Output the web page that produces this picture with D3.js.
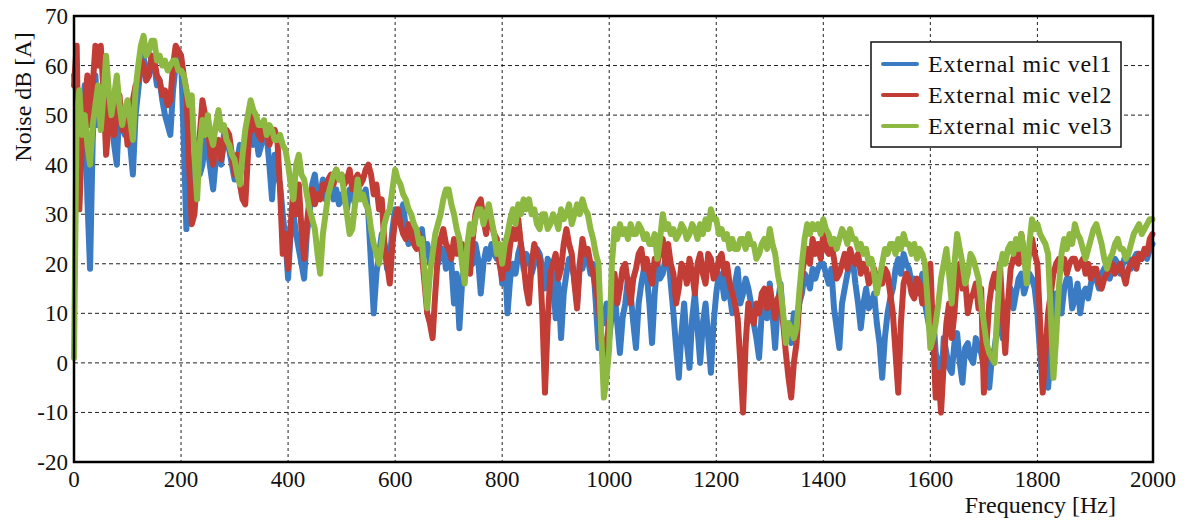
<!DOCTYPE html>
<html>
<head>
<meta charset="utf-8">
<script src="https://cdn.jsdelivr.net/npm/d3@7"></script>
<style>
  body { margin: 0; background: #fff; }
  svg text { font-family: "Liberation Serif", "Times New Roman", serif; fill: #111; }
</style>
</head>
<body>
<div id="chart"></div>
<script>
// frequency grid (Hz), one value every 5 Hz
const freqs = d3.range(0, 2020, 5);

const xTicks = [0, 200, 400, 600, 800, 1000, 1200, 1400, 1600, 1800, 2000];
const yTicks = [-20, -10, 0, 10, 20, 30, 40, 50, 60, 70];

const seriesNames = ["External mic vel1", "External mic vel2", "External mic vel3"];
const seriesColors = ["#3b7bc4", "#c13d36", "#8db842"];

// values, dB(A) — 20 values per 100 Hz
const vel1 = [
  58, 54, 52, 50, 56, 33, 19, 45, 58, 48, 52, 55, 47, 53, 50, 44, 40, 52, 48, 46,
  52, 44, 38, 50, 55, 60, 62, 57, 58, 62, 60, 56, 57, 53, 50, 48, 46, 55, 60, 63,
  62, 45, 27, 38, 34, 42, 45, 38, 40, 45, 43, 39, 35, 41, 44, 40, 46, 44, 43, 40,
  37, 41, 44, 40, 42, 46, 47, 44, 46, 42, 44, 47, 46, 40, 33, 42, 38, 36, 30, 25,
  17, 27, 30, 26, 23, 20, 17, 26, 30, 36, 38, 33, 34, 37, 33, 34, 36, 33, 35, 32,
  34, 33, 31, 35, 34, 32, 36, 34, 33, 35, 30, 20, 10, 18, 22, 26, 24, 19, 21, 27,
  31, 29, 30, 32, 27, 24, 26, 28, 24, 26, 27, 22, 24, 20, 22, 25, 20, 22, 23, 19,
  22, 20, 12, 18, 7, 16, 21, 19, 22, 20, 24, 21, 14, 20, 23, 21, 24, 22, 21, 23,
  16, 21, 10, 17, 20, 18, 22, 24, 19, 22, 21, 18, 20, 23, 22, 19, 15, 21, 20, 17,
  9, 16, 5, 14, 18, 21, 20, 17, 12, 20, 19, 22, 21, 18, 20, 12, 3, 10, 8, 12,
  5, 10, 14, 8, 2, 9, 12, 17, 14, 8, 3, 12, 16, 19, 18, 12, 4, 14, 20, 17,
  18, 21, 22, 16, 10, 3, -3, 6, 12, 4, -1, 9, 14, 7, 0, 8, 12, 5, -2, 8,
  14, 18, 17, 13, 18, 14, 10, 16, 19, 12, 14, 17, 15, 12, 8, 5, 1, 10, 14, 9,
  16, 10, 3, 12, 16, 9, 5, 8, 4, 10, 9, 12, 14, 18, 17, 15, 19, 17, 19, 20,
  20, 18, 16, 19, 11, 7, 3, 12, 15, 18, 20, 21, 16, 12, 7, 12, 15, 11, 12, 14,
  8, 4, -3, 5, 10, 13, 15, 19, 21, 18, 22, 20, 19, 16, 17, 14, 15, 18, 12, 9,
  6, 10, 2, 0, -6, 5, 2, -1, -2, 4, 6, 0, -4, 3, 4, 1, 0, 5, 3, 2,
  -1, 4, -5, 1, 3, 7, 10, 5, 8, 12, 15, 11, 14, 17, 18, 14, 16, 18, 17, 15,
  10, 2, -5, 3, -5, 2, 8, 14, 12, 10, 15, 17, 17, 11, 13, 16, 10, 14, 15, 13,
  16, 18, 17, 15, 18, 19, 20, 17, 19, 21, 20, 18, 20, 22, 21, 19, 21, 22, 22, 21,
  22, 21, 23, 24
];

const vel2 = [
  56, 64, 31, 45, 52, 58, 48, 56, 64, 60, 64, 55, 42, 48, 52, 46, 50, 54, 47, 50,
  44, 50, 53, 56, 57, 61, 60, 57, 58, 62, 61, 58, 57, 54, 55, 52, 53, 60, 64, 63,
  62, 58, 55, 40, 28, 30, 38, 46, 53, 50, 48, 42, 40, 44, 45, 41, 44, 47, 46, 42,
  38, 42, 36, 33, 32, 42, 50, 47, 49, 46, 45, 48, 47, 44, 46, 47, 45, 35, 22, 26,
  19, 28, 35, 30, 36, 27, 21, 28, 33, 35, 32, 34, 33, 36, 35, 37, 38, 36, 39, 37,
  38, 36, 37, 39, 35, 37, 38, 36, 37, 39, 40, 38, 34, 36, 31, 33, 24, 20, 16, 24,
  29, 31, 28, 26, 25, 28, 26, 24, 23, 26, 22, 16, 10, 8, 5, 14, 22, 25, 27, 24,
  23, 21, 25, 22, 22, 24, 20, 22, 18, 25, 30, 32, 33, 29, 26, 30, 28, 26, 25, 20,
  17, 22, 19, 24, 27, 25, 29, 24, 20, 15, 12, 20, 24, 22, 21, 10, -6, 8, 18, 20,
  22, 17, 19, 24, 27, 24, 22, 16, 11, 20, 25, 22, 23, 20, 18, 15, 12, 5, 1, 4,
  8, 14, 18, 12, 15, 19, 20, 16, 12, 17, 19, 22, 23, 19, 21, 18, 16, 21, 20, 23,
  25, 20, 24, 20, 18, 12, 15, 20, 19, 16, 21, 18, 14, 20, 22, 18, 16, 22, 21, 17,
  18, 21, 22, 18, 20, 16, 14, 12, 9, 0, -10, 4, 12, 9, 8, 12, 10, 14, 15, 11,
  15, 12, 9, 13, 14, 8, 2, -3, -7, 0, 4, 12, 18, 21, 23, 20, 25, 22, 24, 21,
  26, 23, 22, 24, 21, 17, 18, 20, 22, 19, 23, 21, 20, 22, 18, 20, 19, 16, 17, 19,
  15, 18, 16, 19, 18, 14, 10, 2, -6, 8, 16, 18, 17, 14, 13, 17, 16, 12, 14, 17,
  20, 6, -7, -2, -10, 0, 8, 12, 5, 10, 18, 20, 15, 17, 10, 13, 14, 16, 11, 15,
  -6, 4, 12, 16, 18, 15, 20, 10, 2, 12, 19, 21, 23, 20, 26, 22, 18, 23, 25, 22,
  20, 8, -6, 2, 10, 14, 18, 20, 21, 19, 21, 18, 20, 21, 21, 19, 20, 21, 18, 20,
  17, 19, 19, 16, 15, 17, 18, 19, 20, 18, 19, 20, 18, 16, 19, 20, 21, 19, 22, 21,
  23, 22, 25, 26
];

const vel3 = [
  1, 50, 55, 46, 50, 44, 40, 48, 52, 56, 47, 54, 62, 55, 50, 54, 58, 52, 48, 51,
  53, 49, 45, 55, 60, 64, 66, 62, 63, 65, 65, 61, 62, 60, 61, 59, 60, 61, 61, 59,
  59, 58, 55, 52, 54, 42, 33, 44, 49, 46, 50, 46, 44, 48, 51, 47, 48, 45, 44, 42,
  41, 38, 36, 42, 47, 50, 53, 51, 50, 48, 48, 49, 46, 48, 47, 45, 45, 46, 44, 43,
  40, 36, 33, 40, 42, 38, 37, 34, 31, 29, 27, 22, 18, 26, 30, 34, 36, 38, 39, 37,
  38, 34, 30, 26, 27, 32, 37, 33, 34, 32, 31, 27, 24, 22, 20, 24, 28, 30, 31, 35,
  39, 37, 36, 34, 33, 31, 30, 28, 27, 24, 25, 18, 11, 18, 22, 26, 28, 30, 33, 35,
  35, 32, 30, 27, 25, 20, 16, 24, 28, 26, 29, 31, 31, 28, 30, 32, 29, 26, 22, 24,
  20, 24, 26, 29, 31, 28, 32, 30, 33, 31, 33, 30, 31, 28, 27, 30, 30, 27, 28, 30,
  29, 27, 31, 29, 30, 32, 28, 30, 32, 30, 33, 31, 30, 27, 25, 22, 20, 6, -7, -3,
  3, 20, 27, 25, 28, 26, 27, 25, 28, 26, 26, 28, 27, 25, 26, 24, 24, 26, 21, 25,
  30, 27, 28, 26, 27, 25, 26, 28, 27, 25, 26, 28, 27, 25, 28, 26, 29, 27, 31, 29,
  29, 26, 27, 25, 26, 23, 25, 23, 23, 25, 25, 23, 26, 24, 24, 21, 22, 24, 25, 23,
  27, 24, 22, 18, 15, 10, 4, 8, 7, 5, 7, 14, 20, 25, 28, 26, 28, 27, 28, 26,
  29, 27, 26, 24, 25, 23, 25, 27, 26, 24, 27, 25, 25, 23, 24, 22, 23, 20, 21, 18,
  14, 17, 20, 23, 22, 24, 24, 22, 25, 23, 26, 24, 24, 22, 24, 21, 23, 22, 20, 12,
  3, 5, 8, 12, 17, 20, 23, 18, 12, 20, 26, 23, 20, 16, 18, 22, 21, 19, 17, 12,
  8, 4, 2, 1, 0, 10, 19, 22, 20, 23, 24, 22, 25, 23, 26, 22, 16, 24, 29, 27,
  28, 26, 25, 24, 22, 10, -3, 5, 15, 22, 25, 23, 26, 24, 28, 26, 25, 23, 21, 23,
  25, 27, 28, 26, 24, 21, 19, 21, 22, 24, 25, 23, 23, 21, 22, 24, 26, 27, 28, 26,
  27, 28, 29, 29
];

const allSeries = [vel1, vel2, vel3];

const width = 1189;
const height = 522;
const plot = { left: 74, right: 1153, top: 16, bottom: 462 };

const x = d3.scaleLinear().domain([0, 2016]).range([plot.left, plot.right]);
const y = d3.scaleLinear().domain([-20, 70]).range([plot.bottom, plot.top]);

const svg = d3.select("#chart")
  .append("svg")
  .attr("width", width)
  .attr("height", height);

// grille pointillée
svg.append("g")
  .selectAll("line")
  .data(xTicks.filter(d => d > 0 && d < 2000))
  .join("line")
  .attr("x1", d => x(d)).attr("x2", d => x(d))
  .attr("y1", plot.top).attr("y2", plot.bottom)
  .attr("stroke", "#222").attr("stroke-width", 1)
  .attr("stroke-dasharray", "3,3");

svg.append("g")
  .selectAll("line")
  .data(yTicks.filter(d => d > -20 && d < 70))
  .join("line")
  .attr("x1", plot.left).attr("x2", plot.right)
  .attr("y1", d => y(d)).attr("y2", d => y(d))
  .attr("stroke", "#222").attr("stroke-width", 1)
  .attr("stroke-dasharray", "4,3");

// courbes
const line = d3.line()
  .x((d, i) => x(freqs[i]))
  .y(d => y(d));

svg.append("g")
  .selectAll("path")
  .data(allSeries)
  .join("path")
  .attr("d", line)
  .attr("fill", "none")
  .attr("stroke", (d, i) => seriesColors[i])
  .attr("stroke-width", 6)
  .attr("stroke-linejoin", "round")
  .attr("stroke-linecap", "round");

// cadre
svg.append("rect")
  .attr("x", plot.left).attr("y", plot.top)
  .attr("width", plot.right - plot.left)
  .attr("height", plot.bottom - plot.top)
  .attr("fill", "none")
  .attr("stroke", "#000")
  .attr("stroke-width", 2.5);

// étiquettes des axes
svg.append("g")
  .selectAll("text")
  .data(xTicks)
  .join("text")
  .attr("x", d => d === 2000 ? plot.right : x(d))
  .attr("y", 487)
  .attr("text-anchor", "middle")
  .style("font-size", "23px")
  .text(d => d);

svg.append("g")
  .selectAll("text")
  .data(yTicks)
  .join("text")
  .attr("x", 68)
  .attr("y", d => y(d) + 8)
  .attr("text-anchor", "end")
  .style("font-size", "23px")
  .text(d => d);

svg.append("text")
  .attr("x", 1116)
  .attr("y", 513)
  .attr("text-anchor", "end")
  .style("font-size", "24px")
  .text("Frequency [Hz]");

svg.append("text")
  .attr("transform", "translate(31,97) rotate(-90)")
  .attr("text-anchor", "middle")
  .style("font-size", "24px")
  .text("Noise dB [A]");

// légende
const legend = svg.append("g");
legend.append("rect")
  .attr("x", 871).attr("y", 42)
  .attr("width", 250).attr("height", 105)
  .attr("fill", "#fff")
  .attr("stroke", "#111")
  .attr("stroke-width", 1.5);

const rows = legend.selectAll("g.row")
  .data(seriesNames)
  .join("g")
  .attr("class", "row")
  .attr("transform", (d, i) => `translate(0,${64 + i * 31})`);

rows.append("line")
  .attr("x1", 883).attr("x2", 917)
  .attr("y1", 0).attr("y2", 0)
  .attr("stroke", (d, i) => seriesColors[i])
  .attr("stroke-width", 4)
  .attr("stroke-linecap", "round");

rows.append("text")
  .attr("x", 928)
  .attr("y", 8)
  .style("font-size", "24px")
  .style("letter-spacing", "0.8px")
  .text(d => d);
</script>
</body>
</html>
